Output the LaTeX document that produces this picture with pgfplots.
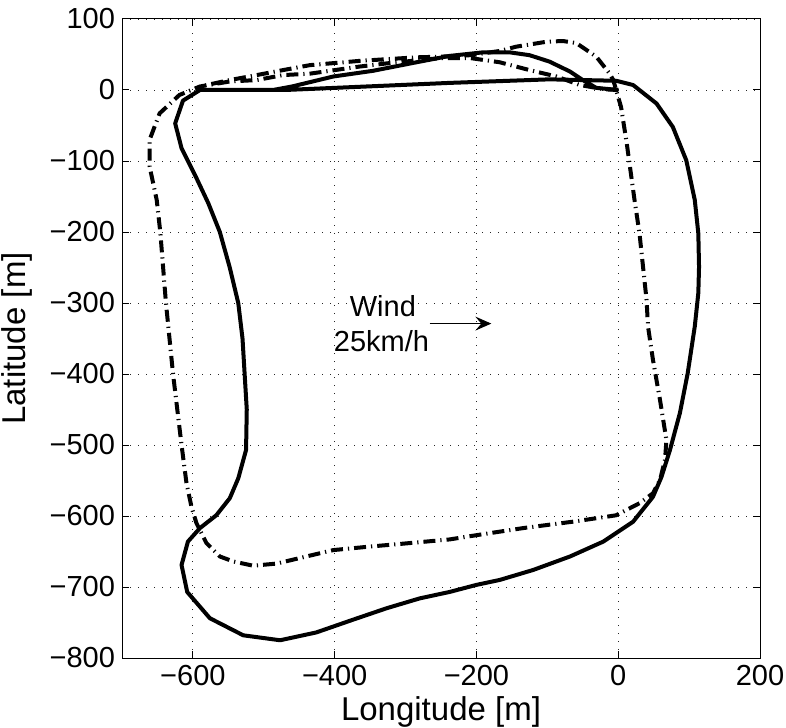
\documentclass[border=0pt]{standalone}
\usepackage{fontspec}
\setmainfont{Liberation Sans}
\usepackage{pgfplots}
\pgfplotsset{compat=1.18}
\usetikzlibrary{arrows.meta,calc}

\newcommand{\fs}{\fontsize{14.5}{17}\selectfont}
\newcommand{\fl}{\fontsize{16.5}{20}\selectfont}

\begin{document}
\begin{tikzpicture}
\begin{axis}[
  scale only axis, width=319pt, height=319.5pt,
  xmin=-700, xmax=200, ymin=-800, ymax=100,
  xtick={-600,-400,-200,0,200},
  xticklabels={−600,−400,−200,0,200},
  ytick={-800,-700,...,100},
  yticklabels={−800,−700,−600,−500,−400,−300,−200,−100,0,100},
  tick align=inside, tick pos=both, major tick length=3.5pt,
  grid=major,
  grid style={black!85, line width=0.4pt, dash pattern=on 0.5pt off 3.5pt},
  axis line style={line width=0.5pt},
  every tick/.style={black, line width=0.5pt},
  tick label style={font=\fs},
  label style={font=\fl},
  xlabel={Longitude [m]}, ylabel={Latitude [m]},
  xlabel style={at={(axis description cs:0.5,0)}, anchor=center, yshift=-27pt},
  ylabel style={at={(axis description cs:-0.1646,0.5)}, anchor=center},
  clip=true,
]
% solid track
\addplot[black, line width=2pt, line join=round] coordinates {
(0,0) (-31,3) (-50,14) (-68,26) (-97,40) (-125,49) (-153,53) (-191,53)
(-238,48) (-290,38) (-346,27) (-402,19) (-460,5) (-487,0) (-540,0) (-590,0)
(-614,-15) (-625,-47) (-616,-82) (-595,-124) (-578,-160) (-562,-200)
(-548,-250) (-536,-300) (-530,-350) (-527,-400) (-524,-450) (-525,-507)
(-536,-547) (-548,-575) (-567,-599) (-590,-617) (-607,-636) (-616,-669)
(-608,-707) (-576,-744) (-529,-768) (-477,-775) (-426,-764) (-374,-746)
(-327,-730) (-280,-716) (-238,-707) (-200,-697) (-167,-690) (-120,-676)
(-68,-657) (-21,-636) (21,-608) (49,-573) (61,-545) (73,-507) (87,-455)
(98,-399) (108,-333) (113,-286) (114,-249) (113,-202) (108,-155) (96,-99)
(77,-52) (54,-19) (21,7) (-3,13) (-97,15) (-238,10) (-400,3) (-470,0) (-540,0)
};
% dash-dot track
\addplot[black, line width=2pt, line join=round,
  dash pattern=on 6pt off 2.5pt on 0.6pt off 2.5pt] coordinates {
(0,0) (-20,1) (-54,7) (-87,19) (-125,28) (-167,39) (-209,45) (-250,45)
(-322,38) (-365,33) (-435,23) (-473,21) (-510,14) (-548,12) (-590,5)
(-619,-7) (-647,-33) (-661,-70) (-661,-108) (-651,-155) (-646,-200)
(-638,-300) (-628,-400) (-616,-500) (-609,-554) (-602,-587) (-595,-610)
(-581,-638) (-562,-657) (-543,-664) (-515,-670) (-482,-667) (-440,-657)
(-402,-648) (-350,-643) (-304,-639) (-238,-633) (-200,-627) (-134,-617)
(-64,-608) (-3,-599) (30,-582) (49,-568) (59,-549) (66,-521) (68,-493)
(59,-437) (49,-380) (42,-333) (40,-296) (35,-249) (30,-202) (23,-155)
(12,-75) (4,-24) (-7,14) (-12,23) (-31,47) (-59,66) (-78,69) (-101,68)
(-144,61) (-167,55) (-209,49) (-250,47) (-285,46) (-365,41) (-435,35)
(-473,28) (-510,21) (-548,14) (-590,5)
};
% wind arrow
\addplot[black, line width=0.5pt, -{Stealth[length=8pt, width=7pt, inset=3pt]}]
  coordinates {(-266,-329) (-179,-329)};
\node[font=\fs, inner sep=0pt] at (axis cs:-332,-305) {Wind};
\node[font=\fs, inner sep=0pt] at (axis cs:-334,-354) {25km/h};
\end{axis}
\pgfresetboundingbox
\path ($(current axis.south west)+(-61pt,-34.5pt)$) rectangle
      ($(current axis.north east)+(13pt,9.5pt)$);
\end{tikzpicture}
\end{document}
